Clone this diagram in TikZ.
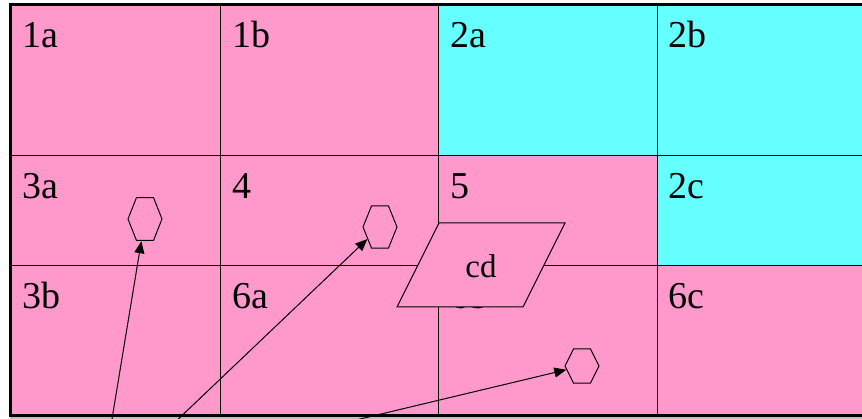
\documentclass[tikz,border=0pt]{standalone}
\usepackage{fontspec}
\setmainfont{Liberation Serif}
\usetikzlibrary{shapes.geometric, arrows.meta}
\definecolor{cellpink}{HTML}{FF99CC}
\definecolor{cellcyan}{HTML}{66FFFF}

\begin{document}
\begin{tikzpicture}[x=1pt,y=-1pt]
 \tikzstyle{tag}=[anchor=base west,inner sep=0pt,
   font=\fontsize{38}{42}\selectfont]
 \tikzstyle{hexa}=[regular polygon,regular polygon sides=6,draw=black,
   minimum size=34pt,inner sep=0pt,line width=1pt]
 \tikzstyle{pointer}=[-{Triangle[length=12pt,width=10pt]},line width=1pt]
 \useasboundingbox (0,0) rectangle (862,419);
 % cell colours
 \fill[cellpink] (10,4.5) rectangle (862,415.5);
 \fill[cellcyan] (439,4.5) rectangle (862,155.7);
 \fill[cellcyan] (657.3,155.7) rectangle (862,265.3);
 \fill[black!25] (10,417) rectangle (862,419);
 % grid lines
 \draw[line width=1pt] (220.7,4.5) -- (220.7,415.5);
 \draw[line width=1pt] (438.5,4.5) -- (438.5,415.5);
 \draw[line width=1pt] (657.3,4.5) -- (657.3,415.5);
 \draw[line width=1pt] (10,155.7) -- (862,155.7);
 \draw[line width=1pt] (10,265.3) -- (862,265.3);
 \draw[line width=3pt] (862,4.5) -- (10,4.5) -- (10,415.5) -- (862,415.5);
 % labels
 \node (l1a) [tag] at (22,48) {1a};
 \node (l1b) [tag] at (232,48) {1b};
 \node (l2a) [tag] at (450,48) {2a};
 \node (l2b) [tag] at (668,48) {2b};
 \node (l3a) [tag] at (22,199) {3a};
 \node (l4) [tag] at (232,199) {4};
 \node (l5) [tag] at (450,199) {5};
 \node (l2c) [tag] at (668,199) {2c};
 \node (l3b) [tag] at (22,309) {3b};
 \node (l6a) [tag] at (232,309) {6a};
 \node (l6b) [tag] at (450,309) {6b};
 \node (l6c) [tag] at (668,309) {6c};
 % the cd box
 \draw[fill=cellpink,line width=1pt]
   (439,223) -- (565,223) -- (523,307) -- (397,307) -- cycle;
 \node (cd) [anchor=base,font=\fontsize{33}{38}\selectfont]
   at (481,278) {cd};
 % hexagons
 \node (h1) [hexa,yscale=1.46] at (145,219) {};
 \node (h2) [hexa,yscale=1.43] at (380,227) {};
 \node (h3) [hexa,yscale=1.155] at (582,366) {};
 \coordinate (s1) at (111,425);
 \coordinate (s2) at (172,425);
 \coordinate (s3) at (335,425);
 \draw[pointer] (s1) -- (h1);
 \draw[pointer] (s2) -- (h2);
 \draw[pointer] (s3) -- (h3);
\end{tikzpicture}
\end{document}
